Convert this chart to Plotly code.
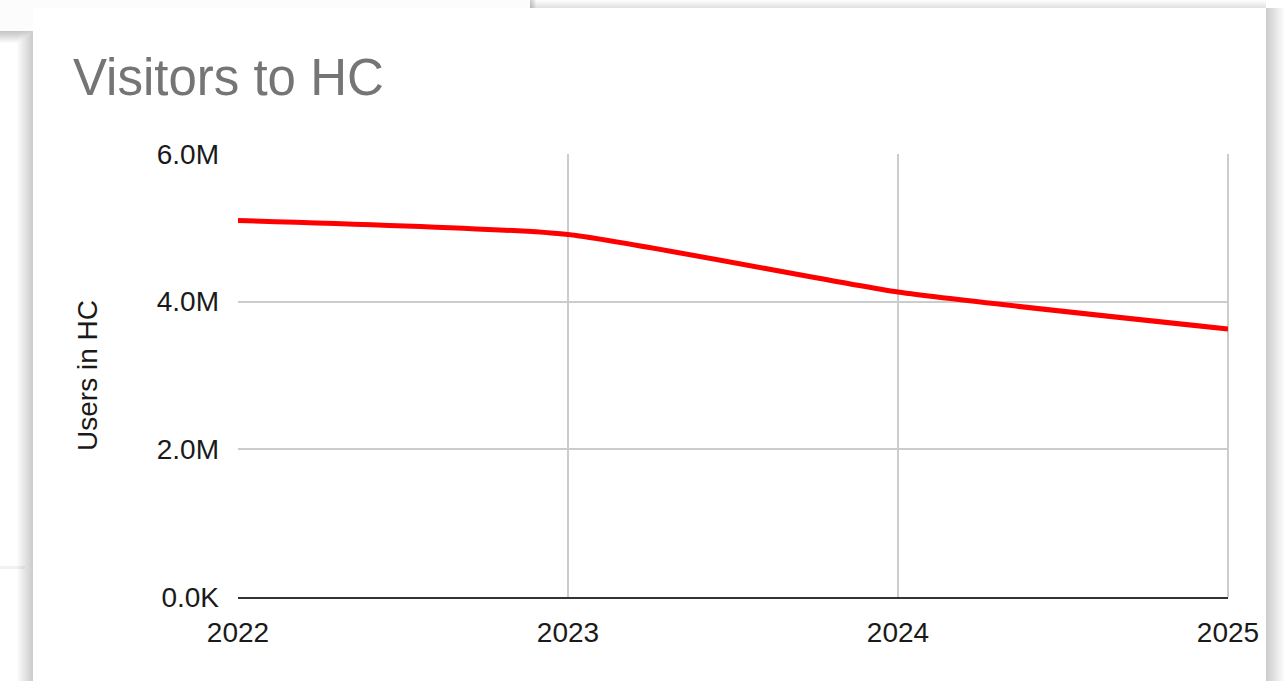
import plotly.graph_objects as go

# Yearly visitor counts
years = [2022, 2023, 2024, 2025]
visitors = [5.10e6, 4.91e6, 4.13e6, 3.63e6]

y_tickvals = [0, 2e6, 4e6, 6e6]
y_ticktext = ["0.0K", "2.0M", "4.0M", "6.0M"]
x_ticktext = ["2022", "2023", "2024", "2025"]

W, H = 1284, 681
L, R, T, B = 238, 1228, 154, 597  # plot area in px

def px_x(p):
    return (p - L) / (R - L)

def px_y(p):
    return (B - p) / (B - T)

FONT = "Arial, Liberation Sans, sans-serif"

fig = go.Figure()
fig.add_trace(go.Scatter(
    x=years, y=visitors, mode="lines",
    line=dict(color="#ff0000", width=5, shape="spline", smoothing=0.5),
    hoverinfo="skip", showlegend=False,
))

shapes = []

def rect(x0, y0, x1, y1, color, opacity=1.0):
    shapes.append(dict(
        type="rect", xref="paper", yref="paper",
        x0=px_x(x0), x1=px_x(x1), y0=px_y(y1), y1=px_y(y0),
        fillcolor=color, opacity=opacity, line=dict(width=0), layer="below",
    ))

# card drop shadows (soft gradient bands)
steps = 10
for i in range(steps):
    # left edge of the card
    rect(33 - 16 + i * 1.6, 8, 33, H + 5, "#000000", 0.02)
    # right edge of the card
    rect(1266, 8, 1266 + 18 - i * 1.8, H + 5, "#000000", 0.02)
    # above the card
    rect(33, 8 - 8 + i * 0.8, 1266, 8, "#000000", 0.012)
# panel behind, peeking out at the top-left
for i in range(steps):
    rect(0, 31, 33 - 16 + i * 1.6, 31 + 12 - i * 1.2, "#000000", 0.025)
rect(0, 0, 530, 31, "#fcfcfc", 1.0)
for i in range(6):
    rect(530, 0, 530 + 6 - i, 8, "#000000", 0.03)
# faint divider on the left strip
rect(0, 566, 25, 569, "#000000", 0.05)
# the card itself
rect(33, 8, 1266, H + 5, "#ffffff", 1.0)

fig.update_layout(
    width=W, height=H,
    margin=dict(l=L, r=W - R, t=T, b=H - B, autoexpand=False),
    paper_bgcolor="#ffffff", plot_bgcolor="#ffffff",
    font=dict(family=FONT, color="#222222", size=28),
    title=dict(
        text="Visitors to HC", xref="container", yref="container",
        x=73 / W, xanchor="left", y=1 - 77 / H, yanchor="middle",
        font=dict(family=FONT, size=51, color="#757575"),
    ),
    xaxis=dict(
        range=[2022, 2025], tickvals=years, ticktext=x_ticktext,
        showgrid=True, gridcolor="#cccccc", gridwidth=2,
        showline=True, linecolor="#333333", linewidth=2,
        mirror=False, zeroline=False, ticks="",
        ticklabelstandoff=9, tickfont=dict(size=28, color="#1a1a1a"),
        fixedrange=True,
    ),
    yaxis=dict(
        range=[0, 6e6], tickvals=y_tickvals, ticktext=y_ticktext,
        showgrid=True, gridcolor="#cccccc", gridwidth=2,
        showline=False, zeroline=False, ticks="",
        ticklabelstandoff=18, tickfont=dict(size=28, color="#1a1a1a"),
        title=dict(text="Users in HC", standoff=50,
                   font=dict(size=28, color="#1a1a1a")),
        fixedrange=True,
    ),
    shapes=shapes,
)

# right border line of the plot area
fig.add_shape(type="line", xref="paper", yref="paper", x0=1, x1=1, y0=0, y1=1,
              line=dict(color="#cccccc", width=2), layer="below")

fig.write_html("out.html")
